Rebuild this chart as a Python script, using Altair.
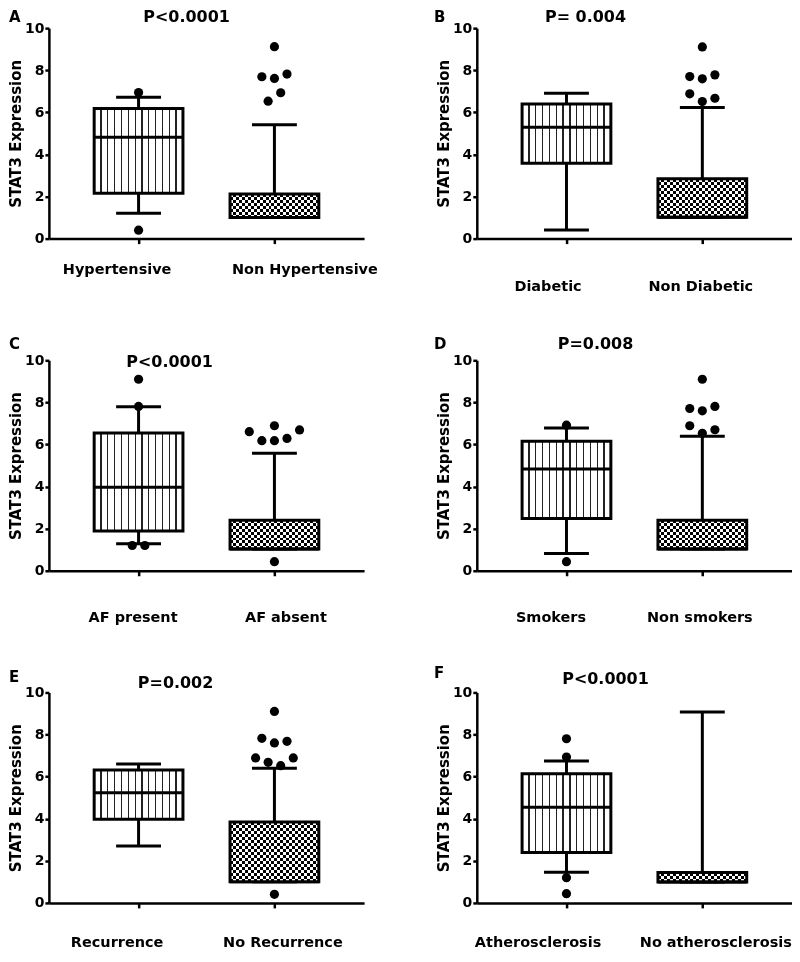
import altair as alt
import pandas as pd

FONT = "DejaVu Sans"

# ---------------- data ----------------
letters = ["A", "B", "C", "D", "E", "F"]
pvals = ["P<0.0001", "P= 0.004", "P<0.0001", "P=0.008", "P=0.002", "P<0.0001"]
groups = [
    ["Hypertensive", "Non Hypertensive"],
    ["Diabetic", "Non Diabetic"],
    ["AF present", "AF absent"],
    ["Smokers", "Non smokers"],
    ["Recurrence", "No Recurrence"],
    ["Atherosclerosis", "No atherosclerosis"],
]
q1 = [[2.15, 1.00], [3.58, 1.01], [1.89, 1.03], [2.48, 1.03], [3.97, 1.00], [2.39, 0.99]]
med = [[4.82, 1.00], [5.29, 1.01], [3.97, 1.03], [4.84, 1.03], [5.23, 1.00], [4.54, 0.99]]
q3 = [[6.18, 2.12], [6.40, 2.84], [6.55, 2.40], [6.15, 2.40], [6.32, 3.84], [6.14, 1.45]]
lo = [[1.21, 1.00], [0.41, 1.01], [1.28, 1.03], [0.82, 1.03], [2.70, 1.00], [1.46, 0.99]]
hi = [[6.72, 5.41], [6.91, 6.23], [7.79, 5.58], [6.78, 6.39], [6.60, 6.40], [6.74, 9.07]]

out_group = [
    [0, 0, 1, 1, 1, 1, 1, 1],
    [1, 1, 1, 1, 1, 1, 1],
    [0, 0, 0, 0, 1, 1, 1, 1, 1, 1, 1],
    [0, 0, 1, 1, 1, 1, 1, 1, 1],
    [1, 1, 1, 1, 1, 1, 1, 1, 1],
    [0, 0, 0, 0],
]
out_value = [
    [6.94, 0.40, 9.12, 7.69, 7.61, 7.82, 6.53, 6.93],
    [9.11, 7.70, 7.59, 7.78, 6.88, 6.51, 6.67],
    [9.10, 7.81, 1.20, 1.20, 6.61, 6.89, 6.18, 6.18, 6.29, 6.69, 0.43],
    [6.92, 0.43, 9.10, 7.71, 7.60, 7.81, 6.89, 6.53, 6.70],
    [9.10, 7.82, 7.60, 7.68, 6.89, 6.68, 6.52, 6.89, 0.41],
    [7.80, 6.93, 1.20, 0.44],
]
out_slot = [
    [0, 0, 0, -2, 0, 2, -1, 1],
    [0, -2, 0, 2, -2, 0, 2],
    [0, 0, -1, 1, -4, 0, -2, 0, 2, 4, 0],
    [0, 0, 0, -2, 0, 2, -2, 0, 2],
    [0, -2, 0, 2, -3, -1, 1, 3, 0],
    [0, 0, 0, 0],
]

# ---------------- styles / layout ----------------
W, H = 316, 211
XDOM = [-0.66, 1.66]
PX_PER_UNIT = W / (XDOM[1] - XDOM[0])
BOX_HALF = 44.5 / PX_PER_UNIT
CAP_HALF = 22.5 / PX_PER_UNIT
SLOT = 6.3 / PX_PER_UNIT
Y_PX_PER_UNIT = H / 10.0

letter_pos = [(-40, -6), (-43, -6), (-40, -11), (-43, -11), (-40, -10), (-43, -14)]
p_pos = [(138, -6), (109, -6), (121, 7), (119, -11), (127, -4), (129, -8)]
label_pad = [19, 36, 35, 35, 28, 28]
label_off = [(-22, 30), (-19, -2), (-6, 11), (-16, -3), (-22, 8), (-29, 13)]


def stripe_gradient(n, lw_px, width_px):
    half = lw_px / width_px / 2
    stops = [{"offset": 0, "color": "white"}]
    for k in range(1, n):
        c = k / n
        stops += [
            {"offset": c - half, "color": "white"},
            {"offset": c - half, "color": "#222222"},
            {"offset": c + half, "color": "#222222"},
            {"offset": c + half, "color": "white"},
        ]
    stops.append({"offset": 1, "color": "white"})
    return {"gradient": "linear", "x1": 0, "y1": 0, "x2": 1, "y2": 0, "stops": stops}


def band_gradient(n, vertical_bands, start_black):
    stops = []
    for k in range(n):
        black = (k % 2 == 0) == start_black
        col = "black" if black else "white"
        stops += [{"offset": k / n, "color": col}, {"offset": (k + 1) / n, "color": col}]
    if vertical_bands:
        return {"gradient": "linear", "x1": 0, "y1": 0, "x2": 1, "y2": 0, "stops": stops}
    return {"gradient": "linear", "x1": 0, "y1": 0, "x2": 0, "y2": 1, "stops": stops}


def panel(i):
    g0, g1 = groups[i]
    o0, o1 = label_off[i]
    xs = alt.Scale(domain=XDOM, nice=False, zero=False)
    ys = alt.Scale(domain=[0, 10], nice=False, zero=True)
    xaxis = alt.Axis(
        values=[0, 1], labelExpr=f"datum.value == 0 ? '{g0}' : '{g1}'",
        grid=False, title=None, domainColor="black", domainWidth=2.5,
        tickColor="black", tickWidth=2.5, tickSize=5,
        labelFont=FONT, labelFontWeight="bold", labelFontSize=14.5,
        labelColor="black", labelPadding=label_pad[i], labelFlush=False,
        labelOverlap=False,
        labelOffset={"condition": {"test": "datum.value == 0", "value": o0}, "value": o1},
    )
    yaxis = alt.Axis(
        values=[0, 2, 4, 6, 8, 10], grid=False, title="STAT3 Expression",
        titleFont=FONT, titleFontWeight="bold", titleFontSize=15,
        titleColor="black", titlePadding=1,
        labelFont=FONT, labelFontWeight="bold", labelFontSize=14,
        labelColor="black", labelPadding=1, tickSize=4, tickWidth=2.5,
        tickColor="black", domainColor="black", domainWidth=2.5,
    )
    df = pd.DataFrame({
        "pos": [0, 1], "q1": q1[i], "med": med[i], "q3": q3[i],
        "lo": lo[i], "hi": hi[i],
    })
    base = alt.Chart(df).transform_calculate(
        xl=f"datum.pos - {BOX_HALF}", xr=f"datum.pos + {BOX_HALF}",
        cl=f"datum.pos - {CAP_HALF}", cr=f"datum.pos + {CAP_HALF}",
    )
    X = lambda f: alt.X(f"{f}:Q", scale=xs, axis=xaxis)
    Y = lambda f: alt.Y(f"{f}:Q", scale=ys, axis=yaxis)

    whisk_up = base.mark_rule(color="black", strokeWidth=3).encode(
        x=X("pos"), y=Y("q3"), y2="hi:Q")
    whisk_dn = base.mark_rule(color="black", strokeWidth=3).encode(
        x=X("pos"), y=Y("lo"), y2="q1:Q")
    cap_hi = base.mark_rule(color="black", strokeWidth=3).encode(
        x=X("cl"), x2="cr:Q", y=Y("hi"))
    cap_lo = base.mark_rule(color="black", strokeWidth=3).encode(
        x=X("cl"), x2="cr:Q", y=Y("lo"))

    box_w = 2 * 44.5
    striped = base.transform_filter("datum.pos == 0").mark_bar(
        fill=stripe_gradient(13, 1.3, box_w), stroke="black", strokeWidth=3
    ).encode(x=X("xl"), x2="xr:Q", y=Y("q1"), y2="q3:Q")

    h_px = (q3[i][1] - q1[i][1]) * Y_PX_PER_UNIT
    nrow = max(2, int(round(h_px / 3.0)))
    ncol = 30
    chk_base = base.transform_filter("datum.pos == 1")
    chk_v = chk_base.mark_bar(fill=band_gradient(ncol, True, True)).encode(
        x=X("xl"), x2="xr:Q", y=Y("q1"), y2="q3:Q")
    chk_h = chk_base.mark_bar(fill=band_gradient(nrow, False, False), blend="difference").encode(
        x=X("xl"), x2="xr:Q", y=Y("q1"), y2="q3:Q")
    chk_outline = chk_base.mark_bar(fillOpacity=0, stroke="black", strokeWidth=3).encode(
        x=X("xl"), x2="xr:Q", y=Y("q1"), y2="q3:Q")

    median = base.mark_rule(color="black", strokeWidth=3).encode(
        x=X("xl"), x2="xr:Q", y=Y("med"))

    odf = pd.DataFrame({"g": out_group[i], "v": out_value[i], "s": out_slot[i]})
    outliers = alt.Chart(odf).transform_calculate(
        xp=f"datum.g + datum.s * {SLOT}"
    ).mark_circle(size=85, color="black", opacity=1).encode(x=X("xp"), y=Y("v"))

    lx, ly = letter_pos[i]
    letter = alt.Chart(pd.DataFrame({"t": [letters[i]]})).mark_text(
        font=FONT, fontWeight="bold", fontSize=15, color="black", align="left",
        baseline="alphabetic").encode(text="t:N", x=alt.value(lx), y=alt.value(ly))
    px, py = p_pos[i]
    ptxt = alt.Chart(pd.DataFrame({"t": [pvals[i]]})).mark_text(
        font=FONT, fontWeight="bold", fontSize=16, color="black", align="center",
        baseline="alphabetic").encode(text="t:N", x=alt.value(px), y=alt.value(py))

    return alt.layer(
        whisk_up, whisk_dn, cap_hi, cap_lo, striped, chk_v, chk_h, chk_outline,
        median, outliers, letter, ptxt
    ).properties(width=W, height=H)


chart = alt.concat(
    *[panel(i) for i in range(6)], columns=2,
    spacing={"row": 122, "column": 113}, bounds="flush",
).properties(padding=0).configure_view(stroke=None)

chart.save("out.html", embed_options={"renderer": "svg", "actions": False})
